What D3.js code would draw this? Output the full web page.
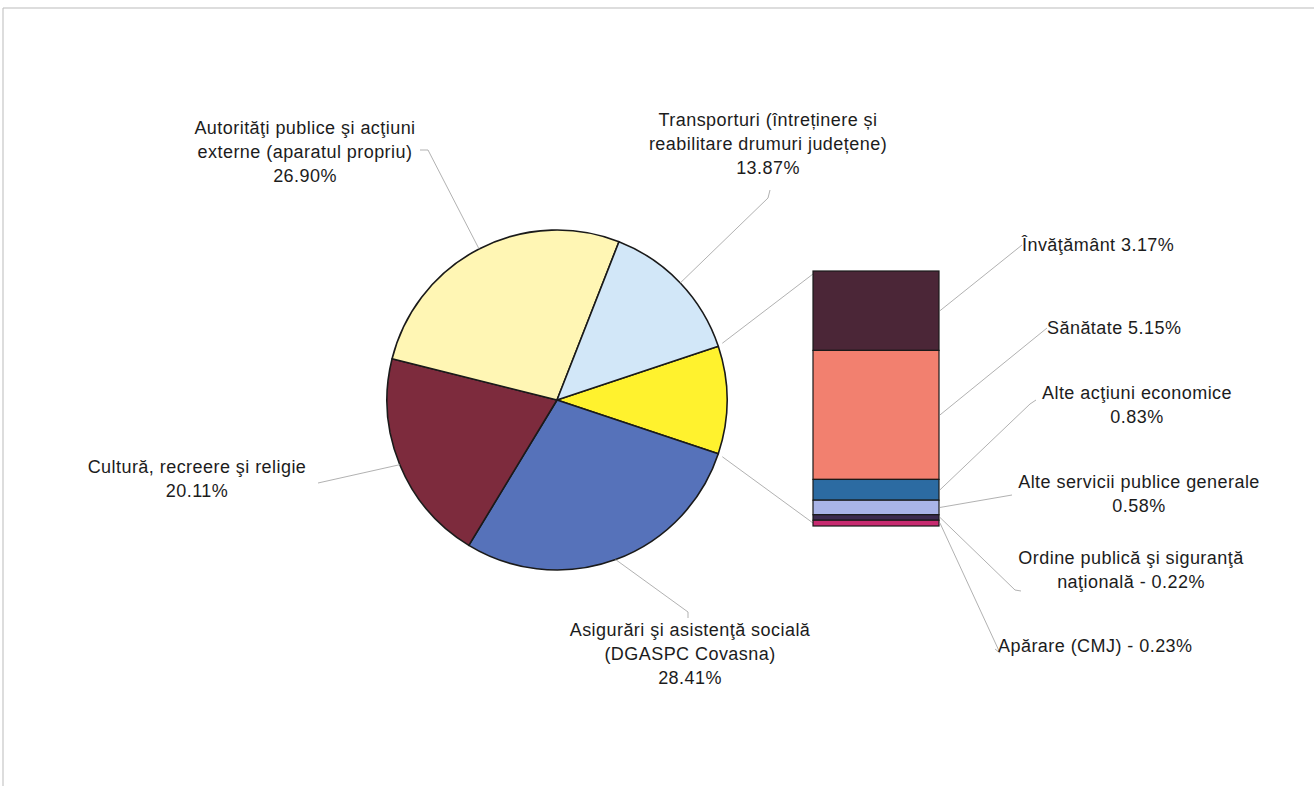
<!DOCTYPE html>
<html>
<head>
  <meta charset="utf-8">
  <title>Bar of pie</title>
  <script src="https://d3js.org/d3.v7.min.js"></script>
  <style>
    body { margin: 0; background: #fff; }
    svg text { font-family: 'Liberation Sans', Arial, sans-serif; font-size: 18px; letter-spacing: 0.45px; fill: #1c1c1c; }
  </style>
</head>
<body>
<script>
// pie slices (the "other" slice is the sum of the bar)
var pieNames = ["Altele", "Asigurări şi asistenţă socială", "Cultură, recreere şi religie",
  "Autorităţi publice şi acţiuni externe", "Transporturi"];
var pieLabels = [
  null,
  ["Asigurări şi asistenţă socială", "(DGASPC Covasna)", "28.41%"],
  ["Cultură, recreere şi religie", "20.11%"],
  ["Autorităţi publice şi acţiuni", "externe (aparatul propriu)", "26.90%"],
  ["Transporturi (întreținere  și", "reabilitare drumuri județene)", "13.87%"]
];
var pieValues = [null, 28.41, 20.11, 26.90, 13.87];
var pieColors = ["#fff22e", "#5672ba", "#7d2b3d", "#fff6b4", "#d2e7f8"];

// bar (breakdown of the "other" slice), top to bottom
var barLabels = [
  ["Învăţământ 3.17%"],
  ["Sănătate 5.15%"],
  ["Alte acţiuni economice", "0.83%"],
  ["Alte servicii publice generale", "0.58%"],
  ["Ordine publică şi siguranţă", "naţională - 0.22%"],
  ["Apărare (CMJ) - 0.23%"]
];
var barValues = [3.17, 5.15, 0.83, 0.58, 0.22, 0.23];
var barColors = ["#4b2637", "#f2806f", "#2c6ba2", "#a9b4e7", "#3c2b4f", "#c72b70"];

pieValues[0] = d3.sum(barValues);

var W = 1314, H = 786;
var svg = d3.select("body").append("svg").attr("width", W).attr("height", H);

// page frame
svg.append("path").attr("d", "M3," + H + "V8H" + W)
  .attr("fill", "none").attr("stroke", "#bbb").attr("stroke-width", 1);

var cx = 557, cy = 400, R = 170;
var otherSpan = pieValues[0] / d3.sum(pieValues) * 2 * Math.PI;
var pie = d3.pie().sort(null)
  .startAngle(Math.PI / 2 - otherSpan / 2)
  .endAngle(Math.PI / 2 - otherSpan / 2 + 2 * Math.PI);
var arcs = pie(pieValues);
var arc = d3.arc().innerRadius(0).outerRadius(R);
function onArc(a, r) { return [cx + r * Math.sin(a), cy - r * Math.cos(a)]; }

// bar geometry
var bx = 813, bw = 126, bTop = 271, bBottom = 526;
var y = d3.scaleLinear().domain([0, d3.sum(barValues)]).range([bTop, bBottom]);
var cum = d3.cumsum(barValues);
var segs = barValues.map(function (v, i) { return { y0: y(cum[i] - v), y1: y(cum[i]), i: i }; });

var lineCol = "#a8a8a8";

// connectors pie -> bar
var pTop = onArc(arcs[0].startAngle, R), pBot = onArc(arcs[0].endAngle, R);
svg.append("line").attr("x1", pTop[0] + 4).attr("y1", pTop[1] - 3).attr("x2", bx).attr("y2", bTop + 3)
  .attr("stroke", lineCol).attr("stroke-width", 0.9);
svg.append("line").attr("x1", pBot[0] + 4).attr("y1", pBot[1] + 3).attr("x2", bx).attr("y2", bBottom - 3)
  .attr("stroke", lineCol).attr("stroke-width", 0.9);

// pie slices
svg.append("g").attr("transform", "translate(" + cx + "," + cy + ")")
  .selectAll("path").data(arcs).enter().append("path")
  .attr("d", arc)
  .attr("fill", function (d, i) { return pieColors[i]; })
  .attr("stroke", "#1a1a1a").attr("stroke-width", 1.6).attr("stroke-linejoin", "round");

// bar segments
svg.append("g").selectAll("rect").data(segs).enter().append("rect")
  .attr("x", bx).attr("width", bw)
  .attr("y", function (d) { return d.y0; })
  .attr("height", function (d) { return d.y1 - d.y0; })
  .attr("fill", function (d) { return barColors[d.i]; })
  .attr("stroke", "#1a1a1a").attr("stroke-width", 1.2);

function drawLabel(lines, x, y0, anchor) {
  var t = svg.append("text").attr("text-anchor", anchor || "middle");
  lines.forEach(function (s, k) {
    t.append("tspan").attr("x", x).attr("y", y0 + k * 24).text(s);
  });
}
function leader(pts) {
  svg.append("path").attr("d", d3.line()(pts))
    .attr("fill", "none").attr("stroke", lineCol).attr("stroke-width", 0.9);
}

// pie labels: text position + leader elbow (layout only)
var pieLayout = [
  null,
  { x: 690, y: 636, elbow: [[688, 612], [688, 618]] },
  { x: 197, y: 473, elbow: [[318, 483]] },
  { x: 305, y: 134, elbow: [[428, 150], [420, 150]] },
  { x: 768, y: 126, elbow: [[768, 198], [770, 190]] }
];
arcs.forEach(function (d, i) {
  if (!pieLabels[i]) return;
  var L = pieLayout[i];
  var p = onArc((d.startAngle + d.endAngle) / 2, R);
  leader([p].concat(L.elbow));
  drawLabel(pieLabels[i], L.x, L.y);
});

// bar labels
var barLayout = [
  { x: 1022, y: 251, anchor: "start", end: [[1022, 245]] },
  { x: 1047, y: 334, anchor: "start", end: [[1047, 328]] },
  { x: 1137, y: 399, end: [[1030, 404], [1036, 400]] },
  { x: 1139, y: 488, end: [[1012, 495]] },
  { x: 1131, y: 564, end: [[1015, 590], [1021, 591]] },
  { x: 998, y: 652, anchor: "start", end: [[1000, 653], [995, 649]] }
];
segs.forEach(function (s, i) {
  var L = barLayout[i];
  var p = [bx + bw + 1, (s.y0 + s.y1) / 2];
  leader([p].concat(L.end));
  drawLabel(barLabels[i], L.x, L.y, L.anchor);
});
</script>
</body>
</html>
